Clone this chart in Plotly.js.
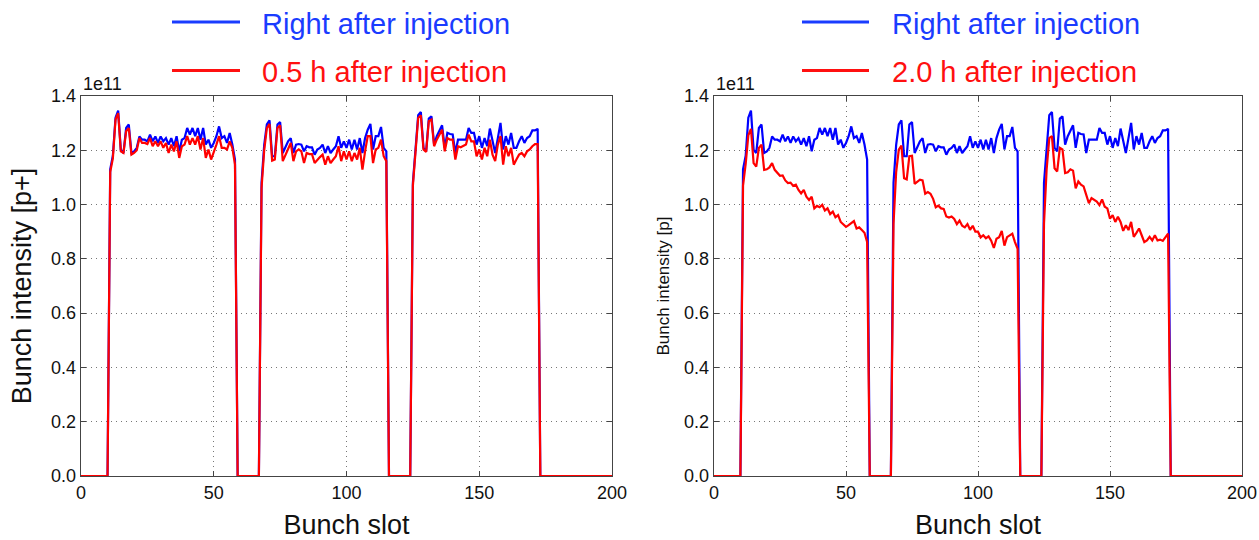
<!DOCTYPE html>
<html>
<head>
<meta charset="utf-8">
<script src="https://cdn.plot.ly/plotly-3.0.1.min.js"></script>
<style>
html,body{margin:0;padding:0;background:#fff;}
#chart{width:1259px;height:540px;}
</style>
</head>
<body>
<div id="chart"></div>
<script>
// ---------------- DATA ----------------
const nSlots = 200;                 // bunch slots 0..200
const trainStarts = [11, 68, 125];  // first filled slot of each 48-bunch train

// Intensity (units of 1e11 p) right after injection
const blueTrain1 = [1.13,1.18,1.32,1.346,1.202,1.190,1.282,1.295,1.190,1.196,1.209,1.251,1.239,1.239,1.233,1.258,1.233,1.251,1.227,1.251,1.233,1.245,1.221,1.245,1.215,1.252,1.196,1.239,1.245,1.282,1.258,1.282,1.252,1.282,1.239,1.282,1.221,1.239,1.209,1.227,1.252,1.288,1.245,1.252,1.227,1.264,1.221,1.166];
const blueTrain2 = [1.08,1.22,1.295,1.31,1.178,1.178,1.295,1.304,1.190,1.209,1.233,1.245,1.190,1.221,1.223,1.221,1.196,1.215,1.211,1.211,1.184,1.203,1.209,1.221,1.190,1.215,1.190,1.203,1.215,1.252,1.209,1.233,1.209,1.239,1.203,1.239,1.203,1.245,1.190,1.245,1.276,1.297,1.203,1.252,1.252,1.286,1.209,1.196];
const blueTrain3 = [1.08,1.22,1.329,1.341,1.209,1.196,1.317,1.325,1.221,1.252,1.273,1.292,1.209,1.264,1.260,1.258,1.190,1.239,1.239,1.239,1.239,1.282,1.264,1.264,1.221,1.252,1.209,1.245,1.215,1.280,1.233,1.190,1.245,1.301,1.203,1.252,1.221,1.264,1.209,1.209,1.233,1.252,1.227,1.245,1.252,1.273,1.273,1.279];

// 0.5 h after injection
const red05Train1 = [1.12,1.17,1.313,1.337,1.196,1.190,1.270,1.282,1.184,1.190,1.200,1.245,1.227,1.227,1.223,1.245,1.215,1.233,1.215,1.233,1.209,1.227,1.190,1.221,1.196,1.233,1.172,1.215,1.221,1.252,1.221,1.245,1.221,1.252,1.203,1.245,1.172,1.203,1.166,1.190,1.221,1.252,1.209,1.209,1.203,1.233,1.209,1.147];
const red05Train2 = [1.06,1.20,1.282,1.297,1.162,1.166,1.282,1.292,1.160,1.184,1.209,1.227,1.160,1.196,1.203,1.196,1.153,1.190,1.186,1.186,1.153,1.166,1.175,1.184,1.147,1.178,1.153,1.166,1.178,1.215,1.160,1.196,1.166,1.196,1.160,1.190,1.166,1.209,1.129,1.196,1.252,1.252,1.153,1.203,1.209,1.239,1.178,1.160];
const red05Train3 = [1.07,1.20,1.319,1.329,1.203,1.194,1.307,1.313,1.215,1.239,1.258,1.276,1.196,1.245,1.239,1.239,1.166,1.215,1.211,1.215,1.221,1.258,1.233,1.233,1.178,1.203,1.166,1.209,1.178,1.239,1.184,1.160,1.221,1.252,1.147,1.215,1.178,1.209,1.147,1.166,1.184,1.190,1.178,1.196,1.203,1.215,1.223,1.223];

// 2.0 h after injection
const red20Train1 = [1.07,1.15,1.255,1.279,1.153,1.140,1.209,1.221,1.128,1.130,1.137,1.153,1.128,1.116,1.106,1.107,1.089,1.079,1.081,1.069,1.073,1.054,1.041,1.054,1.029,1.017,1.029,0.986,0.995,0.990,0.999,0.978,0.986,0.965,0.974,0.953,0.961,0.936,0.928,0.918,0.924,0.930,0.939,0.912,0.916,0.906,0.896,0.862];
const red20Train2 = [0.93,1.12,1.202,1.217,1.097,1.093,1.178,1.180,1.076,1.085,1.092,1.089,1.040,1.046,1.040,1.021,0.990,0.996,0.986,0.984,0.956,0.952,0.956,0.947,0.928,0.941,0.922,0.916,0.928,0.907,0.922,0.900,0.900,0.879,0.887,0.876,0.883,0.867,0.840,0.874,0.880,0.903,0.849,0.880,0.887,0.893,0.862,0.837];
const red20Train3 = [0.93,1.13,1.245,1.252,1.134,1.122,1.209,1.203,1.116,1.119,1.130,1.125,1.060,1.085,1.073,1.067,1.036,1.005,1.024,1.017,1.011,0.998,1.019,0.992,0.986,0.948,0.961,0.936,0.955,0.936,0.903,0.924,0.906,0.936,0.881,0.896,0.912,0.887,0.862,0.868,0.881,0.868,0.887,0.868,0.871,0.866,0.881,0.893];

const xTickVals = [0, 50, 100, 150, 200];
const yTickVals = [0.0, 0.2, 0.4, 0.6, 0.8, 1.0, 1.2, 1.4];

const labelBlue = 'Right after injection';
const labelRed05 = '0.5 h after injection';
const labelRed20 = '2.0 h after injection';

// ---------------- BUILD SERIES ----------------
const slots = [];
for (let s = 0; s <= nSlots; s++) slots.push(s);
function fill(trains) {
  const y = slots.map(() => 0);
  trains.forEach((tr, k) => tr.forEach((v, i) => { y[trainStarts[k] + i] = v * 1e11; }));
  return y;
}
const blue = fill([blueTrain1, blueTrain2, blueTrain3]);
const red05 = fill([red05Train1, red05Train2, red05Train3]);
const red20 = fill([red20Train1, red20Train2, red20Train3]);

// ---------------- LAYOUT ----------------
const FONT = 'Liberation Sans, Arial, Helvetica, sans-serif';
const BLUE = '#0000ff', RED = '#ff0000';
const LEG_BLUE = '#1a3cff', LEG_RED = '#ff1010';

const traces = [
  {x: slots, y: blue, xaxis: 'x', yaxis: 'y', mode: 'lines', line: {color: BLUE, width: 2.2}, name: labelBlue, showlegend: false},
  {x: slots, y: red05, xaxis: 'x', yaxis: 'y', mode: 'lines', line: {color: RED, width: 2.2}, name: labelRed05, showlegend: false},
  {x: slots, y: blue, xaxis: 'x2', yaxis: 'y2', mode: 'lines', line: {color: BLUE, width: 2.2}, name: labelBlue, showlegend: false},
  {x: slots, y: red20, xaxis: 'x2', yaxis: 'y2', mode: 'lines', line: {color: RED, width: 2.2}, name: labelRed20, showlegend: false}
];

const W = 1259, ML = 81, MR = 17, MT = 96, MB = 64;
const PW = W - ML - MR, PH = 540 - MT - MB;
const px = v => (v - ML) / PW;
const py = v => (540 - MB - v) / PH;

const GRID = {showgrid: true, gridcolor: '#777', griddash: '1px,4px', gridwidth: 1, zeroline: false};

function xAx(domain) {
  return Object.assign({
    domain: domain, range: [0, 200], tickvals: xTickVals, ticktext: xTickVals.map(String),
    showline: true, linecolor: '#444', linewidth: 1.3, mirror: 'ticks',
    ticks: 'inside', ticklen: 5, tickcolor: '#444',
    tickfont: {family: FONT, size: 18, color: '#111'},
    title: {text: 'Bunch slot', font: {family: FONT, size: 27, color: '#111'}, standoff: 17}
  }, GRID);
}
function yAx(titleText, titleSize, standoff) {
  return Object.assign({
    domain: [0, 1], range: [0, 1.4e11], tickvals: yTickVals.map(v => v * 1e11), ticktext: yTickVals.map(v => v.toFixed(1)),
    showline: true, linecolor: '#444', linewidth: 1.3, mirror: 'ticks',
    ticks: 'inside', ticklen: 5, tickcolor: '#444',
    tickfont: {family: FONT, size: 18, color: '#111'},
    title: {text: titleText, font: {family: FONT, size: titleSize, color: '#111'}, standoff: standoff}
  }, GRID);
}

const shapes = [
  {type: 'line', xref: 'paper', yref: 'paper', x0: px(172), x1: px(240), y0: py(22), y1: py(22), line: {color: LEG_BLUE, width: 3}},
  {type: 'line', xref: 'paper', yref: 'paper', x0: px(172), x1: px(240), y0: py(70.5), y1: py(70.5), line: {color: LEG_RED, width: 3}},
  {type: 'line', xref: 'paper', yref: 'paper', x0: px(802), x1: px(869), y0: py(22), y1: py(22), line: {color: LEG_BLUE, width: 3}},
  {type: 'line', xref: 'paper', yref: 'paper', x0: px(802), x1: px(869), y0: py(70.5), y1: py(70.5), line: {color: LEG_RED, width: 3}}
];

function legText(text, x, y, color) {
  return {text: text, xref: 'paper', yref: 'paper', x: px(x), y: py(y), xanchor: 'left', yanchor: 'middle',
          showarrow: false, font: {family: FONT, size: 29, color: color}};
}
const annotations = [
  legText(labelBlue, 260, 24, LEG_BLUE),
  legText(labelRed05, 260, 72, LEG_RED),
  legText(labelBlue, 890, 24, LEG_BLUE),
  legText(labelRed20, 890, 72, LEG_RED),
  {text: '1e11', xref: 'paper', yref: 'paper', x: px(81), y: py(96), xanchor: 'left', yanchor: 'bottom', showarrow: false,
   font: {family: FONT, size: 18, color: '#111'}},
  {text: '1e11', xref: 'paper', yref: 'paper', x: px(714), y: py(96), xanchor: 'left', yanchor: 'bottom', showarrow: false,
   font: {family: FONT, size: 18, color: '#111'}}
];

const layout = {
  width: 1259, height: 540,
  margin: {l: ML, r: MR, t: MT, b: MB, pad: 0},
  paper_bgcolor: '#fff', plot_bgcolor: '#fff',
  showlegend: false,
  xaxis: Object.assign(xAx([0, px(612)]), {anchor: 'y'}),
  yaxis: Object.assign(yAx('Bunch intensity [p+]', 27, 11), {anchor: 'x'}),
  xaxis2: Object.assign(xAx([px(714), 1]), {anchor: 'y2'}),
  yaxis2: Object.assign(yAx('Bunch intensity [p]', 17, 10), {anchor: 'x2'}),
  shapes: shapes,
  annotations: annotations
};

Plotly.newPlot('chart', traces, layout, {displayModeBar: false, staticPlot: true});
</script>
</body>
</html>
